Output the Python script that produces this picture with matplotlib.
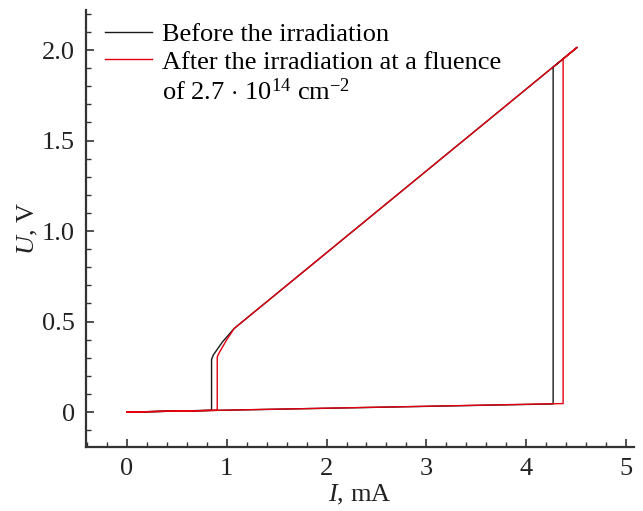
import matplotlib
matplotlib.use("Agg")
import matplotlib.pyplot as plt
from matplotlib.ticker import MultipleLocator, FixedLocator, FixedFormatter

# I-V hysteresis loops (current in mA, voltage in V)
I_before = [0.0, 4.27, 4.27, 4.51, 1.075, 1.032, 0.958, 0.865, 0.848, 0.848, 0.0]
U_before = [0.0, 0.045, 1.905, 2.015, 0.462, 0.435, 0.388, 0.315, 0.29, 0.01, 0.0]

I_after = [0.0, 4.37, 4.37, 4.51, 1.075, 0.998, 0.925, 0.905, 0.905, 0.0]
U_after = [0.0, 0.047, 1.95, 2.015, 0.462, 0.398, 0.328, 0.305, 0.01, 0.0]

labels = [
    "Before the irradiation",
    "After the irradiation at a fluence",
    "of 2.7$\\,\\cdot\\,$10$^{14}$ cm$^{-2}$",
]

y_ticks = [0.0, 0.5, 1.0, 1.5, 2.0]
y_tick_labels = ["0", "0.5", "1.0", "1.5", "2.0"]

plt.rcParams["font.family"] = ["Liberation Serif", "DejaVu Serif"]
plt.rcParams["mathtext.fontset"] = "custom"
plt.rcParams["mathtext.rm"] = "Liberation Serif"
plt.rcParams["mathtext.it"] = "Liberation Serif:italic"

fs = 19

fig = plt.figure(figsize=(6.43, 5.11), dpi=100)
ax = fig.add_axes([0.1337, 0.1252, 0.8523, 0.8562])

ax.plot(I_before, U_before, color="#1a1a1a", lw=1.0, label=labels[0])
ax.plot(I_after, U_after, color="#e3000f", lw=1.0, label=labels[1])
# second line of the red entry's label, without a handle
ax.plot([], [], color="none", label=labels[2])

ax.set_xlim(-0.41, 5.08)
ax.set_ylim(-0.193, 2.224)

ax.xaxis.set_major_locator(MultipleLocator(1))
ax.xaxis.set_minor_locator(MultipleLocator(0.2))
ax.yaxis.set_major_locator(FixedLocator(y_ticks))
ax.yaxis.set_major_formatter(FixedFormatter(y_tick_labels))
ax.yaxis.set_minor_locator(MultipleLocator(0.1))

for side in ["top", "right"]:
    ax.spines[side].set_visible(False)
for side in ["left", "bottom"]:
    ax.spines[side].set_linewidth(1.6)
    ax.spines[side].set_color("#333333")

ax.tick_params(which="major", direction="in", length=6, width=1.2,
               labelsize=fs, colors="#333333", labelcolor="#222222", pad=8)
ax.tick_params(which="minor", direction="in", length=3.6, width=1.0,
               colors="#333333")

ax.set_xlabel("$I$, mA", fontsize=fs, color="#222222", labelpad=2)
ax.set_ylabel("$U$, V", fontsize=fs, color="#222222", labelpad=1)

ax.legend(loc="upper left", bbox_to_anchor=(0.005, 1.007), frameon=False,
          fontsize=fs, handlelength=1.78, handletextpad=0.38,
          labelspacing=0.17, borderaxespad=0.2)

fig.savefig("out.png", dpi=100)
